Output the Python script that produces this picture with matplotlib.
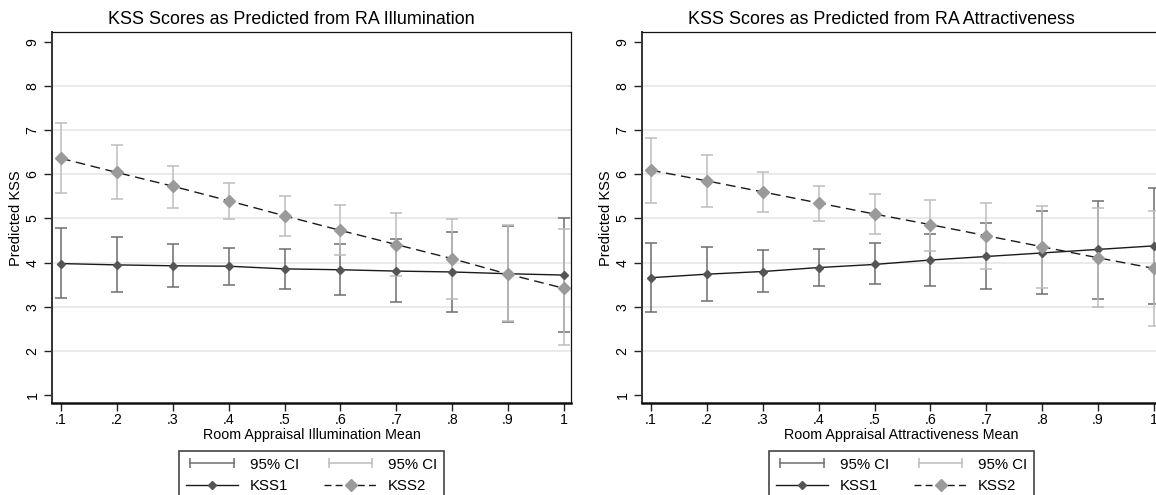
import matplotlib
matplotlib.use("Agg")
import matplotlib.pyplot as plt
from matplotlib.lines import Line2D
from matplotlib.legend_handler import HandlerLine2D
import numpy as np

plt.rcParams['font.family'] = ['Liberation Sans', 'DejaVu Sans']

# ---------------- data ----------------
x_vals = [0.1, 0.2, 0.3, 0.4, 0.5, 0.6, 0.7, 0.8, 0.9, 1.0]
x_ticklabels = ['.1', '.2', '.3', '.4', '.5', '.6', '.7', '.8', '.9', '1']
y_ticks = [1, 2, 3, 4, 5, 6, 7, 8, 9]

illum_kss1 = [3.98, 3.95, 3.93, 3.92, 3.86, 3.84, 3.81, 3.79, 3.75, 3.72]
illum_kss1_lo = [3.21, 3.34, 3.44, 3.49, 3.41, 3.27, 3.10, 2.88, 2.66, 2.44]
illum_kss1_hi = [4.79, 4.59, 4.42, 4.33, 4.31, 4.42, 4.54, 4.69, 4.84, 5.01]
illum_kss2 = [6.36, 6.04, 5.73, 5.40, 5.06, 4.73, 4.41, 4.09, 3.74, 3.42]
illum_kss2_lo = [5.58, 5.43, 5.23, 4.98, 4.61, 4.17, 3.70, 3.19, 2.67, 2.14]
illum_kss2_hi = [7.15, 6.66, 6.19, 5.80, 5.50, 5.30, 5.13, 4.98, 4.86, 4.76]

attr_kss1 = [3.66, 3.74, 3.80, 3.89, 3.96, 4.06, 4.14, 4.22, 4.30, 4.38]
attr_kss1_lo = [2.89, 3.14, 3.34, 3.47, 3.51, 3.48, 3.41, 3.29, 3.19, 3.07]
attr_kss1_hi = [4.44, 4.35, 4.28, 4.31, 4.44, 4.64, 4.89, 5.17, 5.40, 5.69]
attr_kss2 = [6.09, 5.85, 5.60, 5.35, 5.10, 4.86, 4.61, 4.36, 4.11, 3.87]
attr_kss2_lo = [5.34, 5.26, 5.14, 4.94, 4.65, 4.27, 3.85, 3.43, 3.00, 2.56]
attr_kss2_hi = [6.83, 6.43, 6.06, 5.74, 5.55, 5.42, 5.35, 5.28, 5.23, 5.18]

titles = ['KSS Scores as Predicted from RA Illumination',
          'KSS Scores as Predicted from RA Attractiveness']
xlabels = ['Room Appraisal Illumination Mean',
           'Room Appraisal Attractiveness Mean']
ylabel = 'Predicted KSS'
legend_labels = ['95% CI', 'KSS1', '95% CI', 'KSS2']

# ---------------- style ----------------
CI1_COLOR = '#6e6e6e'
CI2_COLOR = '#bdbdbd'
M1_COLOR = '#555555'
M2_COLOR = '#9a9a9a'
LINE_COLOR = '#1a1a1a'
GRID_COLOR = '#e6e6e6'

W, H = 1156, 495
fig = plt.figure(figsize=(W / 100, H / 100), dpi=100)

ax_left_px = [52, 642]
ax_w_px = 519
ax_top_px, ax_bot_px = 32.3, 403.3
title_cx = [291, 881]

panels = [
    (illum_kss1, illum_kss1_lo, illum_kss1_hi, illum_kss2, illum_kss2_lo, illum_kss2_hi),
    (attr_kss1, attr_kss1_lo, attr_kss1_hi, attr_kss2, attr_kss2_lo, attr_kss2_hi),
]

x = np.array(x_vals)
for i, (k1, k1lo, k1hi, k2, k2lo, k2hi) in enumerate(panels):
    ax = fig.add_axes([ax_left_px[i] / W, 1 - ax_bot_px / H,
                       ax_w_px / W, (ax_bot_px - ax_top_px) / H])
    k1 = np.array(k1); k2 = np.array(k2)
    k1lo = np.array(k1lo); k1hi = np.array(k1hi)
    k2lo = np.array(k2lo); k2hi = np.array(k2hi)

    for g in y_ticks[1:-1]:
        ax.axhline(g, color=GRID_COLOR, lw=1.2, zorder=0)

    ax.errorbar(x, k1, yerr=[k1 - k1lo, k1hi - k1], fmt='none', ecolor=CI1_COLOR,
                elinewidth=1.1, capsize=4, capthick=1.1, zorder=2)
    ax.errorbar(x, k2, yerr=[k2 - k2lo, k2hi - k2], fmt='none', ecolor=CI2_COLOR,
                elinewidth=1.1, capsize=4, capthick=1.1, zorder=3)
    ax.plot(x, k1, color=LINE_COLOR, lw=1.0, marker='D', markersize=4.2,
            markerfacecolor=M1_COLOR, markeredgecolor=M1_COLOR, zorder=4)
    ax.plot(x, k2, color=LINE_COLOR, lw=1.0, ls=(0, (7, 4)), marker='D', markersize=6.5,
            markerfacecolor=M2_COLOR, markeredgecolor=M2_COLOR, zorder=5)

    ax.set_xlim(0.084, 1.0125)
    ax.set_ylim(0.82, 9.21)
    ax.set_xticks(x_vals)
    ax.set_xticklabels(x_ticklabels, fontsize=10.2)
    ax.set_yticks(y_ticks)
    ax.set_yticklabels([str(v) for v in y_ticks], fontsize=10.2, rotation=90, va='center')
    ax.tick_params(axis='both', direction='out', length=5.5, width=1.0, color='#222222')
    ax.tick_params(axis='y', pad=3.5)
    ax.tick_params(axis='x', pad=1.5)

    for side in ['top', 'right']:
        ax.spines[side].set_linewidth(0.9)
        ax.spines[side].set_color('#111111')
    ax.spines['left'].set_linewidth(1.4)
    ax.spines['left'].set_color('#333333')
    ax.spines['bottom'].set_linewidth(1.8)
    ax.spines['bottom'].set_color('#111111')

    ax.set_xlabel(xlabels[i], fontsize=10.3, labelpad=0.5)
    ax.set_ylabel(ylabel, fontsize=10.5, labelpad=2)

    fig.text(title_cx[i] / W, 1 - 19 / H, titles[i], ha='center', va='center', fontsize=12.9)

    h_ci1 = Line2D([0], [0], color=CI1_COLOR, lw=1.1, marker='|', markersize=7,
                   markeredgewidth=1.1)
    h_ci2 = Line2D([0], [0], color=CI2_COLOR, lw=1.1, marker='|', markersize=7,
                   markeredgewidth=1.1)
    h_k1 = Line2D([0], [0], color=LINE_COLOR, lw=1.0, marker='D', markersize=4.2,
                  markerfacecolor=M1_COLOR, markeredgecolor=M1_COLOR)
    h_k2 = Line2D([0], [0], color=LINE_COLOR, lw=1.0, ls=(0, (5, 3)), marker='D',
                  markersize=6.5, markerfacecolor=M2_COLOR, markeredgecolor=M2_COLOR)
    leg = ax.legend([h_ci1, h_k1, h_ci2, h_k2], legend_labels, ncol=2,
                    loc='upper center', bbox_to_anchor=(0.5, -0.128), borderaxespad=0,
                    fontsize=10.8, handlelength=3.5, handletextpad=0.75, columnspacing=1.7,
                    labelspacing=0.5, borderpad=0.45, fancybox=False, framealpha=1,
                    edgecolor='#444444',
                    handler_map={h_ci1: HandlerLine2D(numpoints=2),
                                 h_ci2: HandlerLine2D(numpoints=2),
                                 h_k1: HandlerLine2D(numpoints=1),
                                 h_k2: HandlerLine2D(numpoints=1)})
    leg.get_frame().set_linewidth(1.2)

fig.savefig('out.png', dpi=100)
